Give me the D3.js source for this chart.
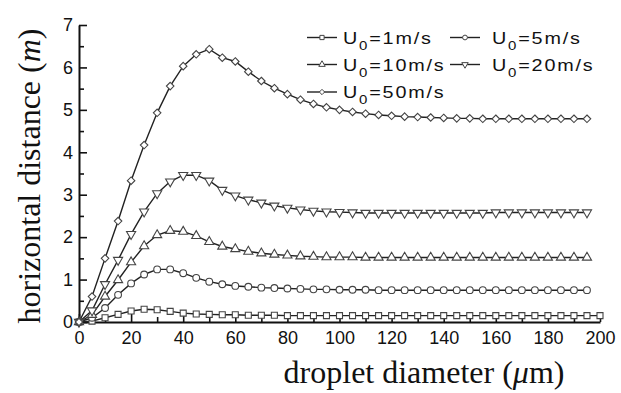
<!DOCTYPE html>
<html>
<head>
<meta charset="utf-8">
<script src="https://cdn.jsdelivr.net/npm/d3@7"></script>
<style>
  body { margin: 0; background: #fff; }
  .axis path, .axis line { stroke: #111; }
  .axis path { stroke-width: 2; }
  .axis line { stroke-width: 1.6; }
  .axis text { font-family: "Liberation Sans", Arial, sans-serif; font-size: 18px; fill: #111; }
</style>
</head>
<body>
<script>
// SVG size
var svgWidth = 621;
var svgHeight = 393;

var margin = { top: 25, right: 21, bottom: 71, left: 79 };
var chartWidth = svgWidth - margin.left - margin.right;
var chartHeight = svgHeight - margin.top - margin.bottom;

// droplet diameter (um), every 5
var diameters = [0, 5, 10, 15, 20, 25, 30, 35, 40, 45, 50, 55, 60, 65, 70, 75, 80, 85, 90, 95,
  100, 105, 110, 115, 120, 125, 130, 135, 140, 145, 150, 155, 160, 165, 170, 175, 180, 185, 190, 195, 200];

// horizontal distance (m) for each U0
var u1 = [0, 0.02, 0.10, 0.18, 0.26, 0.30, 0.29, 0.25, 0.21, 0.19, 0.18, 0.17, 0.17, 0.16, 0.16, 0.16,
  0.15, 0.15, 0.15, 0.15, 0.15, 0.15, 0.15, 0.15, 0.15, 0.15, 0.15, 0.15, 0.15, 0.15,
  0.15, 0.15, 0.15, 0.15, 0.15, 0.15, 0.15, 0.15, 0.15, 0.15, 0.15];
var u5 = [0, 0.10, 0.33, 0.64, 0.91, 1.12, 1.24, 1.24, 1.15, 1.04, 0.95, 0.89, 0.85, 0.83, 0.81, 0.80,
  0.79, 0.78, 0.77, 0.77, 0.76, 0.76, 0.76, 0.75, 0.75, 0.75, 0.75, 0.75, 0.75, 0.75,
  0.75, 0.75, 0.75, 0.75, 0.75, 0.75, 0.75, 0.75, 0.75, 0.75];
var u10 = [0, 0.17, 0.60, 0.99, 1.41, 1.79, 2.05, 2.15, 2.13, 2.03, 1.89, 1.78, 1.72, 1.66, 1.62, 1.59,
  1.57, 1.55, 1.54, 1.53, 1.53, 1.53, 1.52, 1.52, 1.52, 1.52, 1.52, 1.52, 1.52, 1.52,
  1.52, 1.52, 1.52, 1.52, 1.52, 1.52, 1.52, 1.52, 1.52, 1.52];
var u20 = [0, 0.27, 0.89, 1.46, 2.07, 2.60, 3.03, 3.31, 3.46, 3.46, 3.33, 3.11, 2.98, 2.88, 2.81, 2.74,
  2.69, 2.65, 2.62, 2.60, 2.59, 2.58, 2.57, 2.57, 2.57, 2.57, 2.57, 2.57, 2.57, 2.57,
  2.57, 2.57, 2.58, 2.58, 2.58, 2.58, 2.58, 2.58, 2.58, 2.58];
var u50 = [0, 0.60, 1.50, 2.38, 3.33, 4.17, 4.93, 5.56, 6.03, 6.31, 6.43, 6.23, 6.14, 5.90, 5.68, 5.51,
  5.37, 5.24, 5.14, 5.06, 5.00, 4.95, 4.91, 4.88, 4.86, 4.84, 4.83, 4.82, 4.81, 4.80,
  4.80, 4.79, 4.79, 4.79, 4.79, 4.79, 4.79, 4.79, 4.79, 4.79];

var speeds = ["1", "5", "10", "20", "50"];

var xTicks = [0, 20, 40, 60, 80, 100, 120, 140, 160, 180, 200];
var xMinor = [10, 30, 50, 70, 90, 110, 130, 150, 170, 190];
var yTicks = [0, 1, 2, 3, 4, 5, 6, 7];
var yMinor = [0.5, 1.5, 2.5, 3.5, 4.5, 5.5, 6.5];

var series = [
  { speed: speeds[0], values: u1, symbol: d3.symbolSquare, size: 36, rot: 0 },
  { speed: speeds[1], values: u5, symbol: d3.symbolCircle, size: 36, rot: 0 },
  { speed: speeds[2], values: u10, symbol: d3.symbolTriangle, size: 36, rot: 0 },
  { speed: speeds[3], values: u20, symbol: d3.symbolTriangle, size: 36, rot: 180 },
  { speed: speeds[4], values: u50, symbol: d3.symbolDiamond2, size: 36, rot: 0 }
];

var svg = d3.select("body")
  .append("svg")
  .attr("width", svgWidth)
  .attr("height", svgHeight);

var x = d3.scaleLinear().domain([0, 200]).range([0, chartWidth]);
var y = d3.scaleLinear().domain([0, 7]).range([chartHeight, 0]);

var focus = svg.append("g")
  .attr("transform", "translate(" + margin.left + "," + margin.top + ")");

// minor ticks
focus.append("g")
  .attr("class", "axis")
  .attr("transform", "translate(0," + chartHeight + ")")
  .call(d3.axisBottom(x).tickValues(xMinor).tickSize(-5).tickSizeOuter(0).tickFormat(""))
  .select(".domain").remove();
focus.append("g")
  .attr("class", "axis")
  .call(d3.axisLeft(y).tickValues(yMinor).tickSize(-5).tickSizeOuter(0).tickFormat(""))
  .select(".domain").remove();

// major axes
focus.append("g")
  .attr("class", "axis axis--x")
  .attr("transform", "translate(0," + chartHeight + ")")
  .call(d3.axisBottom(x).tickValues(xTicks).tickSize(-8).tickSizeOuter(0).tickPadding(9)
    .tickFormat(d3.format("d")));

focus.append("g")
  .attr("class", "axis axis--y")
  .call(d3.axisLeft(y).tickValues(yTicks).tickSize(-8).tickSizeOuter(0).tickPadding(6)
    .tickFormat(d3.format("d")));

var line = d3.line()
  .x(function(d) { return x(d[0]); })
  .y(function(d) { return y(d[1]); });

series.forEach(function(s) {
  var pts = s.values.map(function(v, i) { return [diameters[i], v]; });
  s.pts = pts;
  focus.append("path")
    .datum(pts)
    .attr("fill", "none")
    .attr("stroke", "#222")
    .attr("stroke-width", 1.4)
    .attr("d", line);
});

series.forEach(function(s) {
  focus.append("g").selectAll("path")
    .data(s.pts)
    .enter()
    .append("path")
    .attr("d", d3.symbol().type(s.symbol).size(s.size))
    .attr("transform", function(d) {
      return "translate(" + x(d[0]) + "," + y(d[1]) + ") rotate(" + s.rot + ")";
    })
    .attr("fill", "#fff")
    .attr("stroke", "#444")
    .attr("stroke-width", 1.1);
});

// legend
var legCols = [{ line: 307, text: 343 }, { line: 450, text: 492 }];
var legRows = [37.5, 64.5, 92];
series.forEach(function(s, i) {
  var col = legCols[i % 2], row = legRows[Math.floor(i / 2)];
  var g = svg.append("g");
  g.append("line")
    .attr("x1", col.line).attr("x2", col.line + 30)
    .attr("y1", row).attr("y2", row)
    .attr("stroke", "#222").attr("stroke-width", 1.4);
  g.append("path")
    .attr("d", d3.symbol().type(s.symbol).size(18))
    .attr("transform", "translate(" + (col.line + 15) + "," + row + ") rotate(" + s.rot + ")")
    .attr("fill", "#fff").attr("stroke", "#444").attr("stroke-width", 1);
  var t = g.append("g")
    .attr("transform", "translate(" + col.text + "," + (row + 6) + ") scale(1.2,1)")
    .append("text")
    .attr("font-family", "Liberation Sans, Arial, sans-serif")
    .attr("font-size", 16.5)
    .attr("letter-spacing", 1.5)
    .attr("fill", "#111");
  t.append("tspan").text("U");
  t.append("tspan").attr("font-size", 12.5).attr("dy", 6).text("0");
  t.append("tspan").attr("dy", -6).text("=" + s.speed + "m/s");
});

// axis titles
var xt = svg.append("text")
  .attr("x", 424).attr("y", 383)
  .attr("text-anchor", "middle")
  .attr("font-family", "Liberation Serif, Times New Roman, serif")
  .attr("font-size", 32)
  .attr("fill", "#111");
xt.append("tspan").text("droplet diameter (");
xt.append("tspan").attr("font-style", "italic").text("\u03bc");
xt.append("tspan").text("m)");

var yt = svg.append("text")
  .attr("transform", "translate(40,176) rotate(-90)")
  .attr("text-anchor", "middle")
  .attr("font-family", "Liberation Serif, Times New Roman, serif")
  .attr("font-size", 32)
  .attr("fill", "#111");
yt.append("tspan").text("horizontal distance (");
yt.append("tspan").attr("font-style", "italic").text("m");
yt.append("tspan").text(")");
</script>
</body>
</html>
